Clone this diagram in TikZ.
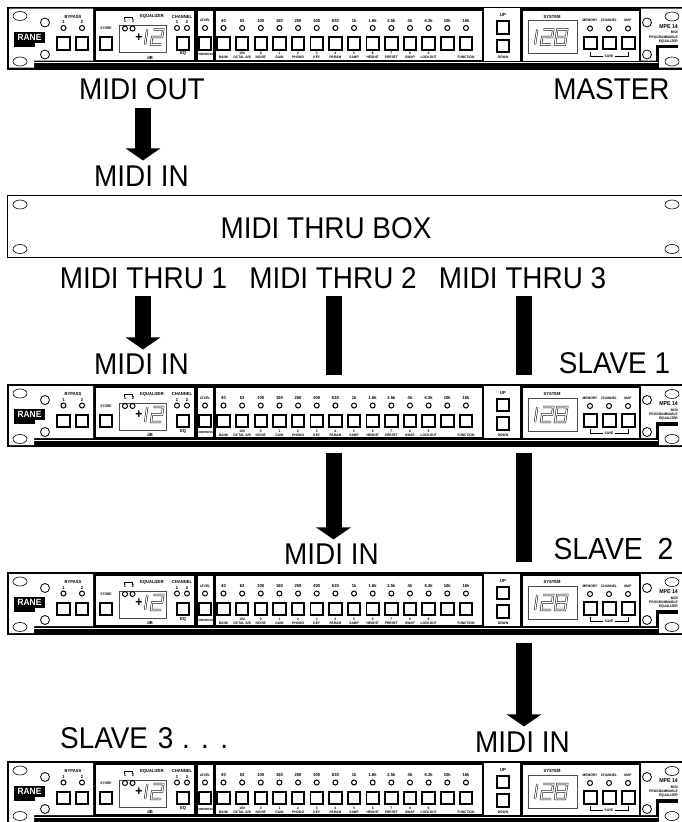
\documentclass[tikz,border=0pt]{standalone}
\usepackage{fontspec}
\setmainfont{Liberation Sans}[FakeStretch=0.93]
\usetikzlibrary{arrows.meta,shapes.geometric}

% seven segment digits, origin at the lower left
\newcommand{\segOne}{\draw[segline] (0,0) -- (0,-15);}
\newcommand{\segTwo}{\draw[segline] (0,-15) -- (10,-15) -- (10,-7.5) -- (0,-7.5) -- (0,0) -- (10,0);}
\newcommand{\segEight}{\draw[segline] (0,0) -- (10,0) -- (10,-15) -- (0,-15) -- cycle (0,-7.5) -- (10,-7.5);}

% one rack unit, #1 = name, #2 = top edge
\newcommand{\rackunit}[2]{
  \node[rackbody] (#1) at (348.5,#2+31.5) {};
  \begin{scope}[shift={(0,#2)}, name prefix=#1-]
    % ears
    \fill[white] (9,2) -- (93,2) -- (93,54) -- (34,54) -- (34,61) -- (9,61) -- cycle;
    \fill[white] (641,2) -- (690,2) -- (690,61) -- (659,61) -- (659,54) -- (641,54) -- cycle;
    \fill (656,38) rectangle (678,41.5);
    \fill (656,38) rectangle (659,55);
    \draw[white, line width=0.6pt] (34,56) -- (658,56);
    \node[slot] (ovalA) at (20,9.5) {};
    \node[slot] (ovalB) at (20,55) {};
    \node[slot] (ovalC) at (672,10) {};
    \node[slot] (ovalD) at (672,55) {};
    \node[screw] (screwA) at (45,16) {};
    \node[screw] (screwB) at (45,48) {};
    \node[screw] (screwC) at (647,16) {};
    \node[screw] (screwD) at (647,48) {};
    \fill (14,25) rectangle (45,36);
    \fill (14,36) rectangle (35,40);
    \node[font=\bfseries\fontsize{9}{9}\selectfont, text=white] (logo) at (29.5,30.5) {RANE};
    % panels
    \fill[white] (96,4) rectangle (194,53);
    \fill[white] (198,4) rectangle (213,53);
    \fill[white] (216,4) rectangle (482,53);
    \fill[white] (484,1.5) rectangle (520,54);
    \fill[white] (523,4) rectangle (639,54);
    % bypass
    \node[tinytext] (bypass) at (73,10) {BYPASS};
    \node[tinytext] (bypA) at (63.5,15.5) {1};
    \node[tinytext] (bypB) at (82,15.5) {2};
    \node[led] (ledA) at (63.5,21.5) {};
    \node[led] (ledB) at (82,21.5) {};
    \node[knob] (btnA) at (63.5,37) {};
    \node[knob] (btnB) at (82,37) {};
    % equalizer
    \node[smalltext] (store) at (106,22) {STORE};
    \node[knob] (btnStore) at (106,37) {};
    \draw[black!70, line width=0.7pt, fill=white] (119,19) rectangle (166,46);
    \draw[line width=0.5pt] (124,12.5) -- (124,10.5) -- (132,10.5) -- (132,12.5);
    \node[tinytext] (eqA) at (125,14) {1};
    \node[tinytext] (eqB) at (133,14) {2};
    \node[tinytext] (equalizer) at (152,10) {EQUALIZER};
    \node[led] (ledEqA) at (125,22) {};
    \node[led] (ledEqB) at (132.5,22) {};
    \node[font=\bfseries\fontsize{13}{13}\selectfont] (plus) at (139,31) {+};
    \begin{scope}[shift={(145,38)}, xslant=0.15]\segOne\end{scope}
    \begin{scope}[shift={(151,38)}, xslant=0.15]\segTwo\end{scope}
    \node[tinytext] (db) at (150,51) {dB};
    \node[tinytext] (channel) at (182,10) {CHANNEL};
    \node[tinytext] (chA) at (177,15.5) {1};
    \node[tinytext] (chB) at (187,15.5) {2};
    \node[led] (ledChA) at (177,21.5) {};
    \node[led] (ledChB) at (187,21.5) {};
    \node[knob] (btnEq) at (183,37) {};
    \node[tinytext] (eq) at (183,47) {EQ};
    % level
    \node[smalltext] (level) at (205,14) {LEVEL};
    \node[led] (ledLevel) at (205,21.5) {};
    \node[knob] (btnLevel) at (205,37) {};
    \node[smalltext, font=\bfseries\fontsize{3}{4}\selectfont] (compress) at (205,48) {COMPRESS};
    % bands
    \foreach \freq/\num/\name [count=\i from 0] in {40//BANK,63/100/{OCTAL A/B},100/0/NOISE,160/1/GAIN,250/2/PHONO,400/3/KEY,630/4/PARAM,1k/5/SAMP,1.6k/6/HEIGHT,2.5k/7/PRESET,4k/8/SWAP,6.3k/9/LOCKOUT,10k//,16k//FUNCTION}{
      \pgfmathsetmacro{\bx}{223.5+18.65*\i}
      \node[tinytext] (freq\i) at (\bx,14) {\freq};
      \node[led] (led\i) at (\bx,21.5) {};
      \node[knob] (btn\i) at (\bx,37) {};
      \node[smalltext] (num\i) at (\bx,47) {\num};
      \node[smalltext] (fn\i) at (\bx,51) {\name};
    }
    % up and down
    \node[tinytext] (up) at (503,9) {UP};
    \node[knob] (btnUp) at (503,21) {};
    \node[knob] (btnDown) at (503,39.5) {};
    \node[smalltext] (down) at (503,51) {DOWN};
    % system
    \node[tinytext] (system) at (552,10) {SYSTEM};
    \draw[black!70, line width=0.7pt] (528,14) rectangle (577,47);
    \begin{scope}[shift={(535,38)}, xslant=0.15]\segOne\end{scope}
    \begin{scope}[shift={(541,38)}, xslant=0.15]\segTwo\end{scope}
    \begin{scope}[shift={(555,38)}, xslant=0.15]\segEight\end{scope}
    \node[smalltext] (memory) at (590,14) {MEMORY};
    \node[smalltext] (chan) at (609,14) {CHANNEL};
    \node[smalltext] (map) at (628,14) {MAP};
    \node[led] (ledMem) at (590,22) {};
    \node[led] (ledChan) at (609,22) {};
    \node[led] (ledMap) at (628,22) {};
    \node[knob] (btnMem) at (590.5,36.5) {};
    \node[knob] (btnChan) at (609.5,36.5) {};
    \node[knob] (btnMap) at (628.5,36.5) {};
    \draw[line width=0.8pt] (590,45) -- (590,49.5) -- (603,49.5);
    \draw[line width=0.8pt] (615,49.5) -- (628,49.5) -- (628,45);
    \node[smalltext] (save) at (609,49.5) {SAVE};
    % right ear
    \node[tinytext, anchor=east, font=\bfseries\fontsize{5.6}{7}\selectfont] (mpe) at (678,20) {MPE 14};
    \node[smalltext, anchor=east] (midi) at (678,26) {MIDI};
    \node[smalltext, anchor=east] (prog) at (678,30.5) {PROGRAMMABLE};
    \node[smalltext, anchor=east] (eqlz) at (678,35) {EQUALIZER};
  \end{scope}
}

\begin{document}
\begin{tikzpicture}[
  x=1pt, y=-1pt,
  rackbody/.style={
    rectangle,
    fill=black,
    inner sep=0pt,
    minimum width=683pt,
    minimum height=63pt,
  },
  bigtext/.style={
    inner sep=0pt,
    font=\fontsize{30}{30}\selectfont,
  },
  tinytext/.style={
    inner sep=0pt,
    font=\bfseries\fontsize{4.4}{5}\selectfont,
  },
  smalltext/.style={
    inner sep=0pt,
    font=\bfseries\fontsize{3.5}{4}\selectfont,
  },
  knob/.style={
    rectangle,
    draw=black,
    fill=white,
    inner sep=0pt,
    minimum size=12.5pt,
    line width=1.9pt,
  },
  led/.style={
    circle,
    draw=black,
    fill=white,
    inner sep=0pt,
    minimum size=5pt,
    line width=1pt,
    path picture={\fill (path picture bounding box.west) rectangle (path picture bounding box.south east);},
  },
  screw/.style={
    circle,
    draw=black,
    fill=white,
    inner sep=0pt,
    minimum size=9pt,
    line width=0.8pt,
    path picture={\fill (path picture bounding box.center) circle (1pt);},
  },
  slot/.style={
    ellipse,
    draw=black,
    fill=white,
    inner sep=0pt,
    minimum width=14pt,
    minimum height=9pt,
    line width=0.6pt,
  },
  segline/.style={
    draw=black,
    line width=0.5pt,
    double=white,
    double distance=1.1pt,
    miter limit=4,
  },
  fatarrow/.style={
    line width=16pt,
    -{Triangle[length=12pt, width=34pt]},
  },
  fatbar/.style={
    line width=16pt,
  },
]
  \clip (0,0) rectangle (682,822);
  \fill[white] (0,0) rectangle (682,822);

  \rackunit{master}{6.5}
  \rackunit{slaveA}{384}
  \rackunit{slaveB}{572}
  \rackunit{slaveC}{761}

  \node[rectangle, draw=black, fill=white, line width=1.6pt, inner sep=0pt, minimum width=683pt, minimum height=62pt] (thrubox) at (349,226.5) {};
  \node[slot] (boxA) at (20,204.5) {};
  \node[slot] (boxB) at (20,249) {};
  \node[slot] (boxC) at (672,204.5) {};
  \node[slot] (boxD) at (672,249) {};

  \coordinate (colA) at (143,0);
  \coordinate (colB) at (333.5,0);
  \coordinate (colC) at (524,0);

  \node[bigtext] (midiout) at (142,89) {MIDI OUT};
  \node[bigtext] (mastertxt) at (611.5,89) {MASTER};
  \node[bigtext] (inA) at (141.5,176) {MIDI IN};
  \node[bigtext] (boxtxt) at (326,228) {MIDI THRU BOX};
  \node[bigtext] (thruA) at (143.5,278) {MIDI THRU 1};
  \node[bigtext] (thruB) at (333,278) {MIDI THRU 2};
  \node[bigtext] (thruC) at (522.5,278) {MIDI THRU 3};
  \node[bigtext] (inB) at (141.5,364) {MIDI IN};
  \node[bigtext] (slaveAtxt) at (614.5,363) {SLAVE 1};
  \node[bigtext] (inC) at (331.5,554) {MIDI IN};
  \node[bigtext, font=\fontsize{30.5}{30}\selectfont] (slaveBtxt) at (613.5,549) {SLAVE\hspace{7pt} 2};
  \node[bigtext, anchor=west] (slaveCtxt) at (60,738) {SLAVE\hspace{2pt} 3\hspace{1pt} .\hspace{1pt} .\hspace{1pt} .};
  \node[bigtext] (inD) at (522.5,742) {MIDI IN};

  \draw[fatarrow, shorten <=8pt, shorten >=5pt] (midiout.south -| colA) -- (inA.north -| colA);
  \draw[fatarrow, shorten <=7pt, shorten >=4pt] (thruA.south -| colA) -- (inB.north -| colA);
  \draw[fatbar, shorten <=7pt, shorten >=9pt] (thruB.south -| colB) -- (slaveA.north -| colB);
  \draw[fatbar, shorten <=7pt, shorten >=9pt] (thruC.south -| colC) -- (slaveA.north -| colC);
  \draw[fatarrow, shorten <=6pt, shorten >=4pt] (slaveA.south -| colB) -- (inC.north -| colB);
  \draw[fatbar, shorten <=6pt, shorten >=10pt] (slaveA.south -| colC) -- (slaveB.north -| colC);
  \draw[fatarrow, shorten <=8pt, shorten >=5pt] (slaveB.south -| colC) -- (inD.north -| colC);

\end{tikzpicture}
\end{document}
